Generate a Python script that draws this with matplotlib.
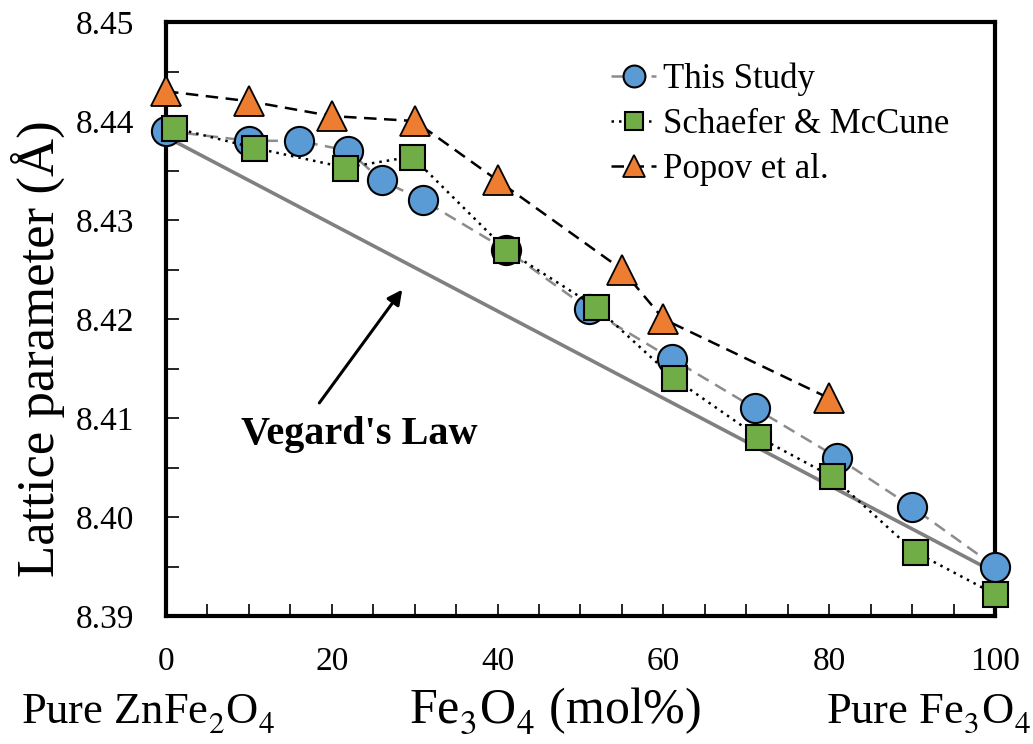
#!/usr/bin/env python3
"""Lattice parameter vs Fe3O4 content, compared with literature and Vegard's law."""
import matplotlib
matplotlib.use("Agg")
import matplotlib.pyplot as plt
from matplotlib.ticker import MultipleLocator, FormatStrFormatter

plt.rcParams["font.family"] = ["Liberation Serif", "DejaVu Serif"]
plt.rcParams["mathtext.fontset"] = "stix"

# drop chemical subscripts a bit further, like the word-processor original
try:
    import matplotlib._mathtext as _mt
    _mt.STIXFontConstants.sub1 = 0.5
except (ImportError, AttributeError):
    pass

# This study
study_x = [0, 10, 16, 22, 26, 31, 41, 51, 61, 71, 81, 90, 100]
study_y = [8.439, 8.438, 8.438, 8.437, 8.434, 8.432, 8.427, 8.421, 8.416,
           8.411, 8.406, 8.401, 8.395]

# Schaefer & McCune
schaefer_x = [1, 10.6, 21.6, 29.7, 41, 51.9, 61.3, 71.4, 80.3, 90.3, 100]
schaefer_y = [8.4393, 8.4373, 8.4353, 8.4364, 8.427, 8.4212, 8.414, 8.4081,
              8.4041, 8.3965, 8.3922]

# Popov et al.
popov_x = [0, 10, 20, 30, 40, 55, 60, 80]
popov_y = [8.443, 8.442, 8.4405, 8.440, 8.434, 8.425, 8.420, 8.412]

# Vegard's law end points
vegard_x = [0, 100]
vegard_y = [8.4384, 8.3944]

BLUE = "#5B9BD5"
GREEN = "#70AD47"
ORANGE = "#ED7D31"


def main() -> None:
    fig = plt.figure(figsize=(10.33, 7.44), dpi=100)
    ax = fig.add_axes([0.1607, 0.172, 0.8025, 0.7984])

    ax.plot(vegard_x, vegard_y, color="#808080", lw=2.6, zorder=2,
            solid_capstyle="butt")
    ax.plot(study_x, study_y, ls=(0, (5, 3)), color="#8c8c8c", lw=1.8,
            marker="o", ms=21, mfc=BLUE, mec="black", mew=1.5,
            label="This Study", clip_on=False, zorder=3)
    ax.plot(schaefer_x, schaefer_y, ls=(0, (1, 2)), color="black", lw=1.8,
            marker="s", ms=18, mfc=GREEN, mec="black", mew=1.5,
            label="Schaefer & McCune", clip_on=False, zorder=4)
    ax.plot(popov_x, popov_y, ls=(0, (5, 3)), color="black", lw=1.8,
            marker="^", ms=21, mfc=ORANGE, mec="black", mew=1.3,
            label="Popov et al.", clip_on=False, zorder=3)

    ax.set_xlim(0, 100)
    ax.set_ylim(8.39, 8.45)
    ax.xaxis.set_major_locator(MultipleLocator(20))
    ax.xaxis.set_minor_locator(MultipleLocator(5))
    ax.yaxis.set_major_locator(MultipleLocator(0.01))
    ax.yaxis.set_minor_locator(MultipleLocator(0.005))
    ax.yaxis.set_major_formatter(FormatStrFormatter("%.2f"))

    for side in ("top", "right", "left", "bottom"):
        ax.spines[side].set_linewidth(3)
    ax.tick_params(which="both", direction="in", width=1.2, length=9,
                   labelsize=24)
    ax.tick_params(axis="y", pad=23)
    ax.tick_params(axis="x", pad=22)

    ax.set_ylabel("Lattice parameter (Å)", fontsize=38)
    ax.yaxis.set_label_coords(-0.122, 0.45)

    ax.annotate("", xy=(28.7, 8.4232), xytext=(18.3, 8.4113),
                arrowprops=dict(arrowstyle="-|>", color="black", lw=2.2,
                                mutation_scale=22))
    ax.text(23.3, 8.4083, "Vegard's Law", fontsize=29, fontweight="bold",
            ha="center", va="center")

    ax.legend(loc="upper right", bbox_to_anchor=(0.983, 0.985), frameon=False,
              fontsize=25, handlelength=1.3, handletextpad=0.2,
              labelspacing=0.35, markerscale=0.75)

    fig.text(0.02, 0.028, "Pure ZnFe$_2$O$_4$", fontsize=32, ha="left",
             va="baseline")
    fig.text(0.537, 0.028, "Fe$_3$O$_4$ (mol%)", fontsize=36, ha="center",
             va="baseline")
    fig.text(0.998, 0.028, "Pure Fe$_3$O$_4$", fontsize=32, ha="right",
             va="baseline")

    fig.savefig("out.png", dpi=100)
    plt.close(fig)


if __name__ == "__main__":
    main()
